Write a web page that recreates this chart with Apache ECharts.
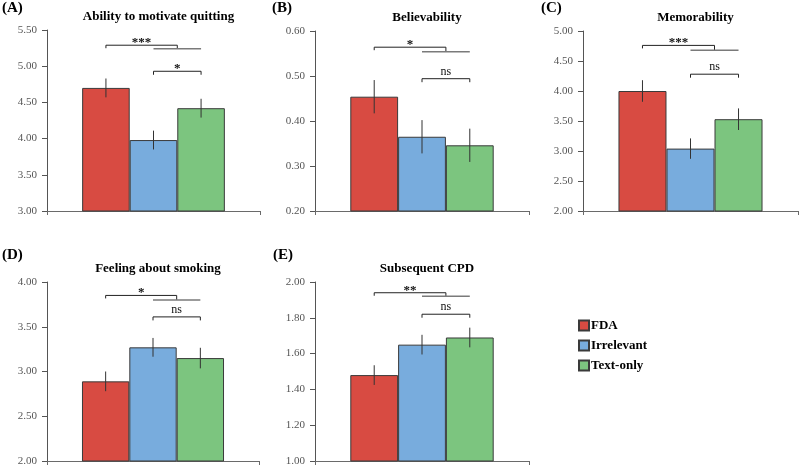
<!DOCTYPE html>
<html>
<head>
<meta charset="utf-8">
<script src="https://cdn.jsdelivr.net/npm/echarts@6/dist/echarts.min.js"></script>
<style>html,body{margin:0;padding:0;background:#fff}#c{width:800px;height:467px}</style>
</head>
<body>
<div id="c"></div>
<script>
// ---- data ----
const groups = ['FDA', 'Irrelevant', 'Text-only'];
const panelLabels = ['(A)', '(B)', '(C)', '(D)', '(E)'];
const panelTitles = ['Ability to motivate quitting', 'Believability', 'Memorability', 'Feeling about smoking', 'Subsequent CPD'];
const fdaMeans        = [4.70, 0.454, 4.00, 2.89, 1.48];
const irrelevantMeans = [3.98, 0.365, 3.04, 3.27, 1.65];
const textOnlyMeans   = [4.42, 0.346, 3.53, 3.15, 1.69];
const fdaErr        = [0.13, 0.037, 0.18, 0.11, 0.055];
const irrelevantErr = [0.13, 0.037, 0.17, 0.105, 0.055];
const textOnlyErr   = [0.13, 0.037, 0.18, 0.115, 0.055];
const yMin = [3.0, 0.2, 2.0, 2.0, 1.0];
const yMax = [5.5, 0.6, 5.0, 4.0, 2.0];
const yInterval = [0.5, 0.1, 0.5, 0.5, 0.2];
const sigLabelAll  = ['***', '*', '***', '*', '**'];   // FDA vs others
const sigLabelPair = ['*', 'ns', 'ns', 'ns', 'ns'];    // Irrelevant vs Text-only
const bracketAllY  = [5.29, 0.564, 4.76, 3.85, 1.94];
const bracketJoinY = [5.24, 0.554, 4.68, 3.80, 1.92];
const bracketPairY = [4.93, 0.494, 4.28, 3.61, 1.82];

// ---- layout / style ----
const grids = [
  {left: 47,  top: 30,  width: 213, height: 181},
  {left: 315, top: 31,  width: 214, height: 180},
  {left: 583, top: 31,  width: 215, height: 180},
  {left: 47,  top: 282, width: 212, height: 179},
  {left: 315, top: 282, width: 214, height: 179}
];
const labelPos = [[2, 1], [272, 1], [541, 1], [2, 248], [273, 248]];
const colors = ['#d84b42', '#78acdd', '#7cc57f'];
const FONT = '"Liberation Serif", "Times New Roman", serif';
const GAP = 0.33;

const means = [fdaMeans, irrelevantMeans, textOnlyMeans];
const errs = [fdaErr, irrelevantErr, textOnlyErr];

const option = {
  animation: false,
  backgroundColor: '#fff',
  title: [],
  grid: [],
  xAxis: [],
  yAxis: [],
  series: [],
  legend: {
    orient: 'vertical', left: 573, top: 314, itemWidth: 10, itemHeight: 10, itemGap: 7,
    icon: 'rect', data: groups,
    textStyle: {fontFamily: FONT, fontWeight: 'bold', fontSize: 13, color: '#000', padding: [0, 0, 0, -3]}
  }
};

function barGeom(api, barIdx, v) {
  const p = api.coord([0, v]);
  const catW = api.size([1, 0])[0];
  const bw = catW * (1 - GAP) / 3;
  return [p[0] + (barIdx - 1) * bw, p[1]];
}

for (let k = 0; k < 5; k++) {
  const g = grids[k];
  option.grid.push(Object.assign({containLabel: false}, g));
  option.title.push({
    text: panelTitles[k], left: g.left + g.width / 2, top: g.top - 25, textAlign: 'center',
    textStyle: {fontFamily: FONT, fontWeight: 'bold', fontSize: 13, color: '#000'}
  });
  option.title.push({
    text: panelLabels[k], left: labelPos[k][0], top: labelPos[k][1], padding: 0,
    textStyle: {fontFamily: FONT, fontWeight: 'bold', fontSize: 15, color: '#000'}
  });
  option.xAxis.push({
    type: 'category', gridIndex: k, data: [''], boundaryGap: true,
    axisLine: {lineStyle: {color: '#6a6a6a', width: 1}},
    axisTick: {show: true, length: 4, lineStyle: {color: '#6a6a6a'}},
    axisLabel: {show: false}, splitLine: {show: false}
  });
  option.yAxis.push({
    type: 'value', gridIndex: k, min: yMin[k], max: yMax[k], interval: yInterval[k],
    axisLine: {show: true, lineStyle: {color: '#555', width: 1}},
    axisTick: {show: true, length: 5, lineStyle: {color: '#555'}},
    splitLine: {show: false},
    axisLabel: {fontFamily: FONT, fontSize: 11, color: '#555', margin: 10,
      formatter: v => v.toFixed(2)}
  });
  for (let i = 0; i < 3; i++) {
    option.series.push({
      type: 'bar', name: groups[i], xAxisIndex: k, yAxisIndex: k,
      data: [means[i][k]], barGap: '0%', barCategoryGap: (GAP * 100) + '%',
      itemStyle: {color: colors[i], borderColor: '#3a3a3a', borderWidth: 1}
    });
  }
  // error bars
  option.series.push({
    type: 'custom', xAxisIndex: k, yAxisIndex: k, silent: true, z: 5,
    encode: {x: 0, y: 1},
    data: [0, 1, 2].map(i => [0, means[i][k], errs[i][k], i]),
    renderItem: function (params, api) {
      const m = api.value(1), e = api.value(2), idx = api.value(3);
      const top = barGeom(api, idx, m + e), bot = barGeom(api, idx, m - e);
      return {type: 'line', shape: {x1: top[0], y1: top[1], x2: bot[0], y2: bot[1]},
        style: {stroke: '#333', lineWidth: 1}};
    }
  });
  // significance brackets
  option.series.push({
    type: 'custom', xAxisIndex: k, yAxisIndex: k, silent: true, z: 6,
    encode: {x: 0, y: 1},
    data: [[0, bracketAllY[k], bracketJoinY[k], bracketPairY[k]]],
    renderItem: function (params, api) {
      const yA = api.value(1), yJ = api.value(2), yP = api.value(3);
      const a0 = barGeom(api, 0, yA);
      const b1 = barGeom(api, 1, yJ), c1 = barGeom(api, 2, yJ);
      const midX = (b1[0] + c1[0]) / 2;
      const p0 = barGeom(api, 1, yP), p1 = barGeom(api, 2, yP);
      const dark = {stroke: '#222', lineWidth: 1, fill: null};
      const l1 = sigLabelAll[k], l2 = sigLabelPair[k];
      function lab(t, x, y) {
        const star = t.indexOf('*') >= 0;
        return {type: 'text', x: x, y: y + (star ? 5 : 0),
          style: {text: t, fontFamily: FONT, fontSize: star ? 13 : 12, fontWeight: star ? 'bold' : 'normal',
            fill: '#111', align: 'center', verticalAlign: 'bottom'}};
      }
      return {type: 'group', children: [
        {type: 'polyline', shape: {points: [[a0[0], a0[1] + 3], [a0[0], a0[1]], [midX, a0[1]], [midX, b1[1]]]}, style: dark},
        {type: 'line', shape: {x1: b1[0], y1: b1[1], x2: c1[0], y2: c1[1]}, style: {stroke: '#7a7a7a', lineWidth: 1.5}},
        {type: 'polyline', shape: {points: [[p0[0], p0[1] + 3.5], [p0[0], p0[1]], [p1[0], p1[1]], [p1[0], p1[1] + 3.5]]}, style: dark},
        lab(l1, (a0[0] + midX) / 2, a0[1] - 1),
        lab(l2, (p0[0] + p1[0]) / 2, p0[1] - 1)
      ]};
    }
  });
}

const chart = echarts.init(document.getElementById('c'), null, {renderer: 'canvas'});
chart.setOption(option);
</script>
</body>
</html>
